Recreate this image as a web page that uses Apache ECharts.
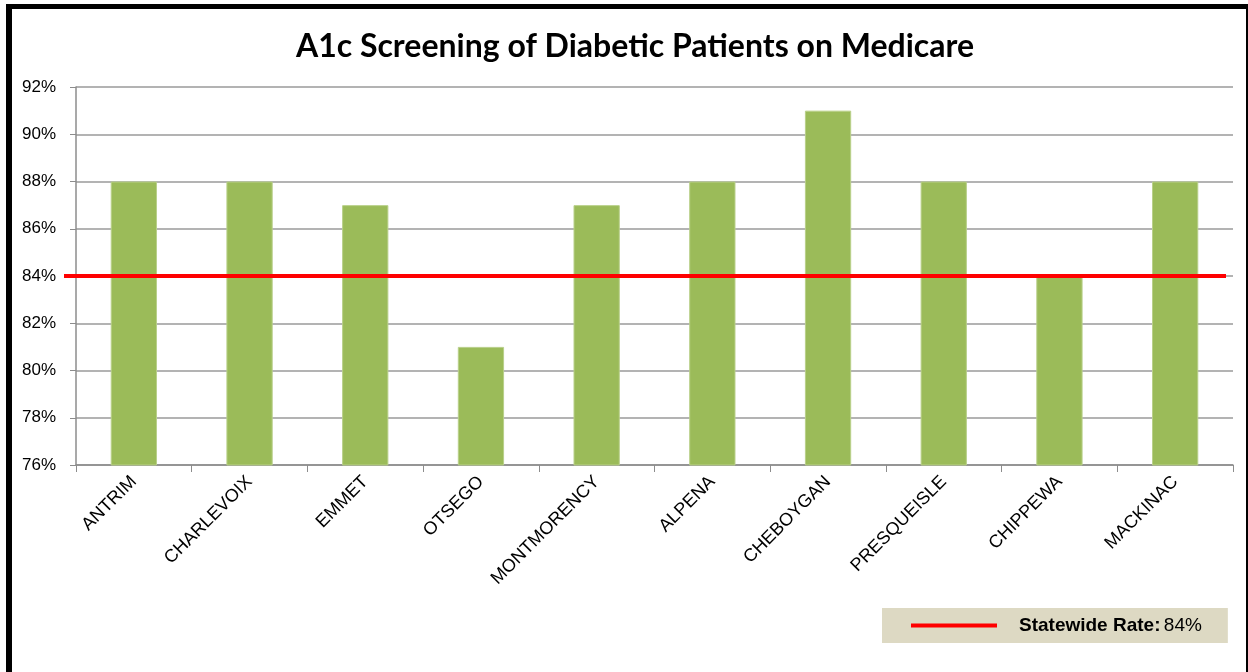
<!DOCTYPE html>
<html>
<head>
<meta charset="utf-8">
<style>
  html, body { margin: 0; padding: 0; background: #fff; }
  #wrap { position: relative; width: 1248px; height: 672px; overflow: hidden; }
  #frame {
    position: absolute; left: 6px; top: 4px; width: 1234px; height: 666px;
    border-left: 6px solid #000; border-top: 5px solid #000;
    border-right: 4px solid #000; border-bottom: 1px solid #999;
    box-sizing: content-box;
  }
  #chart { position: absolute; left: 0; top: 0; width: 1248px; height: 672px; }
</style>
<script src="https://cdn.jsdelivr.net/npm/echarts@6/dist/echarts.min.js"></script>
</head>
<body>
<div id="wrap">
  <div id="frame"></div>
  <div id="chart"></div>
</div>
<script>
// Counties and their A1c screening rates (%)
const counties = ['ANTRIM', 'CHARLEVOIX', 'EMMET', 'OTSEGO', 'MONTMORENCY',
                  'ALPENA', 'CHEBOYGAN', 'PRESQUEISLE', 'CHIPPEWA', 'MACKINAC'];
const screeningRates = [88, 88, 87, 81, 87, 88, 91, 88, 84, 88];
const statewideRate = 84;
const yMin = 76, yMax = 92, yStep = 2;

const font = '"Liberation Sans", "DejaVu Sans", sans-serif';
const chart = echarts.init(document.getElementById('chart'), null, { renderer: 'canvas' });

chart.setOption({
  animation: false,
  backgroundColor: 'transparent',
  title: {
    text: 'A1c Screening of Diabetic Patients on Medicare',
    left: 630, top: 26, textAlign: 'center',
    textStyle: { fontFamily: 'Lato, "Open Sans", sans-serif', fontWeight: 'bold', fontSize: 32, color: '#000' }
  },
  grid: [
    { left: 76, right: 15, top: 87, bottom: 207, containLabel: false },
    { left: 64, right: 22, top: 87, bottom: 207, containLabel: false }
  ],
  legend: {
    data: ['Statewide Rate'],
    left: 882, top: 608,
    backgroundColor: '#DDD9C3',
    padding: [8, 26, 8, 29],
    icon: 'rect', itemWidth: 86, itemHeight: 4,
    formatter: () => '{b|Statewide Rate:} {n|' + statewideRate + '%}',
    textStyle: {
      padding: [0, 0, 0, 17],
      rich: {
        b: { fontFamily: font, fontWeight: 'bold', fontSize: 19, color: '#000' },
        n: { fontFamily: font, fontSize: 19, color: '#000' }
      }
    }
  },
  xAxis: [
    {
      type: 'category', gridIndex: 0, data: counties, boundaryGap: true,
      axisLine: { lineStyle: { color: '#8c8c8c', width: 1.5 } },
      axisTick: { show: true, length: 7, lineStyle: { color: '#8c8c8c' } },
      axisLabel: { rotate: 45, margin: 14, fontFamily: font, fontSize: 18, color: '#000', interval: 0 }
    },
    { type: 'value', gridIndex: 1, min: 0, max: 1, show: false }
  ],
  yAxis: [
    {
      type: 'value', gridIndex: 0, min: yMin, max: yMax, interval: yStep,
      axisLine: { show: true, lineStyle: { color: '#8c8c8c', width: 1.5 } },
      axisTick: { show: true, length: 6, lineStyle: { color: '#8c8c8c' } },
      axisLabel: { formatter: v => v + '%', margin: 20, fontFamily: font, fontSize: 17, color: '#000' },
      splitLine: { show: true, lineStyle: { color: '#9a9a9a', width: 1.5 } }
    },
    { type: 'value', gridIndex: 1, min: yMin, max: yMax, show: false }
  ],
  series: [
    {
      name: 'A1c Screening', type: 'bar', xAxisIndex: 0, yAxisIndex: 0,
      data: screeningRates, barWidth: '40%',
      itemStyle: { color: '#9BBB59', borderColor: '#B9D08A', borderWidth: 1 },
      z: 2
    },
    {
      name: 'Statewide Rate', type: 'line', xAxisIndex: 1, yAxisIndex: 1,
      data: [[0, statewideRate], [1, statewideRate]],
      symbol: 'none', lineStyle: { color: '#FF0000', width: 4 },
      itemStyle: { color: '#FF0000' },
      z: 5
    }
  ]
});
</script>
</body>
</html>
